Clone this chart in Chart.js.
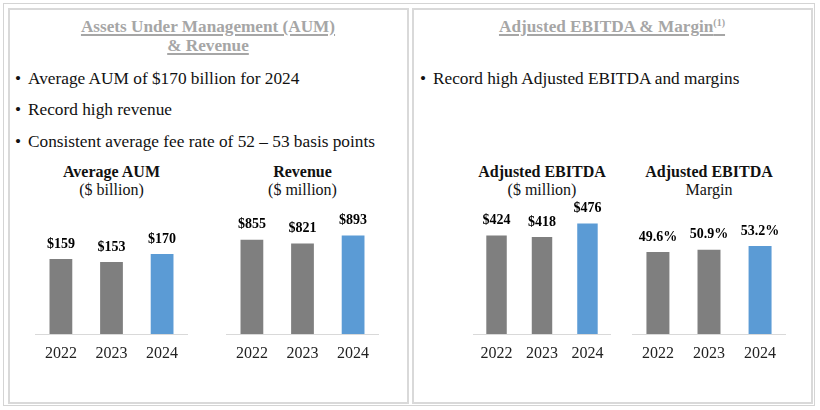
<!DOCTYPE html>
<html>
<head>
<meta charset="utf-8">
<script src="https://cdn.jsdelivr.net/npm/chart.js@4.4.1/dist/chart.umd.min.js"></script>
<style>
  html, body { margin: 0; padding: 0; background: #ffffff; }
  body { width: 820px; height: 410px; position: relative; overflow: hidden; font-family: "Liberation Serif", "Times New Roman", serif; }
  .frame { position: absolute; left: 3px; top: 3px; width: 812px; height: 403px; border: 1.5px solid #d4d4d4; box-sizing: border-box; }
  .panel { position: absolute; top: 8px; height: 396px; border: 2px solid #d9d9d9; box-sizing: border-box; }
  .hdr { position: absolute; top: 18px; text-align: center; font-weight: bold; font-size: 17.2px; line-height: 18.5px; color: #a6a6a6;
         text-decoration: underline; text-decoration-thickness: 1.5px; text-underline-offset: 2px; }
  .hdr sup { font-size: 10px; vertical-align: 6px; line-height: 0; }
  .bullets { position: absolute; top: 62.5px; font-size: 17.3px; line-height: 31.5px; color: #111; }
  .bullets div { position: relative; white-space: nowrap; }
  .bullets div span.b { position: absolute; left: -13px; }
  .ctitle { position: absolute; top: 163px; text-align: center; font-size: 16px; line-height: 17.5px; color: #111; }
  .ctitle b { display: block; }
  canvas { position: absolute; }
</style>
</head>
<body>
<div class="frame"></div>
<div class="panel" style="left:8px; width:401px;"></div>
<div class="panel" style="left:412px; width:401px;"></div>

<div class="hdr" style="left:8px; width:400px;">Assets Under Management (AUM)<br>&amp; Revenue</div>
<div class="hdr" style="left:412px; width:400px;">Adjusted EBITDA &amp; Margin<sup>(1)</sup></div>

<div class="bullets" style="left:28px;">
  <div><span class="b">•</span>Average AUM of $170 billion for 2024</div>
  <div><span class="b">•</span>Record high revenue</div>
  <div><span class="b">•</span>Consistent average fee rate of 52 – 53 basis points</div>
</div>
<div class="bullets" style="left:433px;">
  <div><span class="b">•</span>Record high Adjusted EBITDA and margins</div>
</div>

<div class="ctitle" style="left:35px; width:153px;"><b>Average AUM</b>($ billion)</div>
<div class="ctitle" style="left:226px; width:153px;"><b>Revenue</b>($ million)</div>
<div class="ctitle" style="left:461px; width:162px;"><b>Adjusted EBITDA</b>($ million)</div>
<div class="ctitle" style="left:622px; width:174px;"><b>Adjusted EBITDA</b>Margin</div>

<canvas id="cAum" width="153" height="175" style="left:35px; top:195px;"></canvas>
<canvas id="cRev" width="153" height="175" style="left:226px; top:195px;"></canvas>
<canvas id="cEbitda" width="142" height="175" style="left:471px; top:195px;"></canvas>
<canvas id="cMargin" width="154" height="175" style="left:632px; top:195px;"></canvas>

<script>
const years = ['2022', '2023', '2024'];
const aumValues = [159, 153, 170];
const revenueValues = [855, 821, 893];
const ebitdaValues = [424, 418, 476];
const marginValues = [49.6, 50.9, 53.2];

const GRAY = '#7f7f7f';
const BLUE = '#5b9bd5';
const barColors = [GRAY, GRAY, BLUE];
const FONT = '"Liberation Serif", "Times New Roman", serif';

const valueLabels = {
  id: 'valueLabels',
  afterDatasetsDraw(chart, args, opts) {
    const ctx = chart.ctx;
    const meta = chart.getDatasetMeta(0);
    const data = chart.data.datasets[0].data;
    ctx.save();
    ctx.font = 'bold 14px ' + FONT;
    ctx.fillStyle = '#000';
    ctx.textAlign = 'center';
    ctx.textBaseline = 'middle';
    meta.data.forEach((bar, i) => {
      ctx.fillText(opts.format(data[i]), bar.x, bar.y - 15);
    });
    ctx.restore();
  }
};

function makeChart(id, values, yMax, format) {
  return new Chart(document.getElementById(id), {
    type: 'bar',
    data: {
      labels: years,
      datasets: [{
        data: values,
        backgroundColor: barColors,
        borderWidth: 0,
        categoryPercentage: 1.0,
        barPercentage: 0.45
      }]
    },
    options: {
      responsive: false,
      animation: false,
      layout: { padding: { left: 0, right: 0, top: 0, bottom: 6 } },
      scales: {
        x: {
          grid: { display: false, drawTicks: false },
          border: { display: true, color: '#d9d9d9', width: 1 },
          ticks: { color: '#222', padding: 10, font: { family: FONT, size: 16 } },
          afterFit(scale) { scale.height = 30; }
        },
        y: { display: false, min: 0, max: yMax }
      },
      plugins: {
        legend: { display: false },
        tooltip: { enabled: false },
        valueLabels: { format: format }
      }
    },
    plugins: [valueLabels]
  });
}

makeChart('cAum', aumValues, 295, v => '$' + v);
makeChart('cRev', revenueValues, 1261, v => '$' + v);
makeChart('cEbitda', ebitdaValues, 599, v => '$' + v);
makeChart('cMargin', marginValues, 84.1, v => v.toFixed(1) + '%');
</script>
</body>
</html>
